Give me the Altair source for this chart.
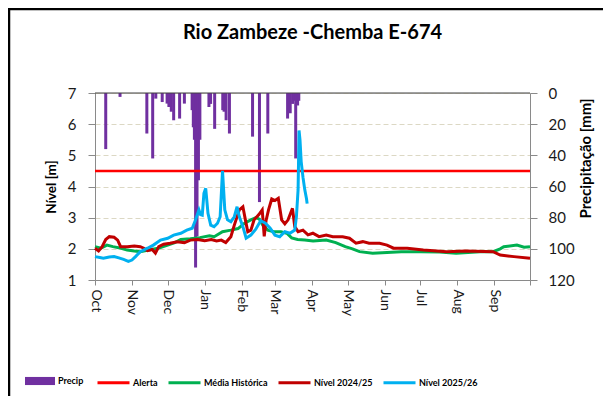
import altair as alt
import pandas as pd

TITLE = "Rio Zambeze -Chemba E-674"
START = pd.Timestamp("2025-10-01")
FONT = "Lato"

# ---- data (day offsets from 1 Oct 2025) ----
alert_days = [0, 365]
alert_vals = [4.5, 4.5]

hist_days = [0, 5, 10, 15, 22, 27, 33, 38, 45, 53, 61, 67, 72, 80, 88, 96, 100, 107, 114, 120,
             125.5, 130.8, 135, 138, 141, 145, 150, 156, 161, 165, 170, 176, 183, 194, 202, 210,
             216, 222, 233, 245, 257, 273, 289, 303, 323, 334, 340, 343, 354, 360, 365]
hist_vals = [2.07, 2.02, 2.12, 2.07, 2.02, 1.96, 1.93, 1.91, 1.96, 2.02, 2.12, 2.20, 2.30, 2.32,
             2.36, 2.42, 2.39, 2.55, 2.60, 2.65, 2.82, 2.93, 3.00, 2.95, 2.75, 2.60, 2.55, 2.55,
             2.50, 2.35, 2.30, 2.28, 2.25, 2.28, 2.20, 2.07, 2.00, 1.91, 1.86, 1.88, 1.91, 1.91,
             1.90, 1.86, 1.91, 1.91, 2.00, 2.07, 2.12, 2.05, 2.07]

prev_days = [0, 3, 6, 9, 12, 16, 19, 21.5, 27, 33, 38, 41, 44, 48, 50.7, 53.5, 57.6, 63, 69, 75,
             80, 86, 92, 97.6, 102, 106, 109.7, 114, 116.9, 121.1, 124.1, 126.2, 128.2, 130.8,
             133.5, 137.5, 140.3, 142, 143.5, 145.6, 148.3, 151, 153.8, 156.6, 159.3, 162, 165.7,
             167.6, 170.4, 174.5, 178.7, 182.8, 188, 194, 199.5, 207.8, 213.5, 219, 224.7, 230,
             238.8, 245, 250.5, 262, 275.5, 295, 311, 334, 340, 351.5, 365]
prev_vals = [2.02, 1.93, 2.07, 2.30, 2.39, 2.37, 2.28, 2.07, 2.07, 2.09, 2.07, 2.02, 1.94, 1.98,
             1.86, 2.07, 2.15, 2.18, 2.23, 2.20, 2.28, 2.30, 2.26, 2.30, 2.25, 2.28, 2.20, 2.39,
             2.76, 3.25, 3.35, 2.93, 2.55, 2.60, 2.93, 3.10, 3.25, 2.40, 2.90, 3.25, 3.60, 3.55,
             3.62, 2.93, 2.80, 2.93, 3.30, 2.71, 2.55, 2.60, 2.45, 2.50, 2.39, 2.44, 2.39, 2.39,
             2.34, 2.18, 2.23, 2.18, 2.18, 2.12, 2.02, 2.02, 1.96, 1.91, 1.93, 1.91, 1.80, 1.75,
             1.70]

curr_days = [0, 4, 7, 12, 16, 20, 24, 28, 31, 34, 38, 44, 49, 55, 61, 66, 72, 77, 81.6, 84.4,
             87.2, 88.5, 90, 91.4, 92.9, 94.8, 97.1, 99.9, 102.8, 105, 107, 108.9, 111.2, 114,
             116.9, 119.2, 121.1, 124.1, 126.8, 130.8, 134.9, 139, 143, 147, 151, 155, 159.3,
             163.5, 167.6, 169, 170.4, 171.2, 172, 173, 174.5, 176, 177.5, 178]
curr_vals = [1.75, 1.72, 1.70, 1.74, 1.75, 1.71, 1.66, 1.60, 1.64, 1.75, 1.91, 2.02, 2.12, 2.28,
             2.34, 2.44, 2.50, 2.60, 2.66, 2.93, 3.25, 3.10, 3.08, 3.78, 3.94, 3.14, 2.76, 2.71,
             2.82, 3.03, 4.50, 3.25, 2.93, 2.87, 3.03, 3.35, 3.03, 2.71, 2.34, 2.44, 2.63, 2.90,
             2.82, 2.66, 2.44, 2.39, 2.55, 2.50, 2.60, 3.03, 3.89, 5.80, 5.50, 4.80, 4.30, 3.90,
             3.60, 3.45]

precip_days = [9, 21, 43.5, 48.4, 51, 56.4, 60.5, 62, 64, 66, 71, 75, 81.5, 82.5, 83.4, 84.4,
               85.6, 86.8, 88, 95.6, 97, 100.4, 107.2, 108.3, 110, 112.8, 132.2, 138, 145,
               161.6, 163.8, 165.8, 167, 168.4, 170, 171]
precip_mm = [36, 2.5, 26, 42, 3.6, 5.8, 6.8, 9, 12, 17.5, 16.4, 6.8, 11, 22, 30, 112, 92, 56,
             30, 9, 7, 23, 11, 12, 17.5, 26, 28, 70, 26, 16.4, 13, 7, 5, 42, 8, 5]


def to_dates(days):
    return START + pd.to_timedelta(days, unit="D")


def series_df(days, vals, name):
    return pd.DataFrame({"date": to_dates(days), "value": vals, "series": name})


alert_df = series_df(alert_days, alert_vals, "Alerta")
hist_df = series_df(hist_days, hist_vals, "Média Histórica")
prev_df = series_df(prev_days, prev_vals, "Nível 2024/25")
curr_df = series_df(curr_days, curr_vals, "Nível 2025/26")
precip_df = pd.DataFrame({"date": to_dates(precip_days), "mm": precip_mm, "series": "Precip"})

W, H = 435, 187

month_ticks = [alt.DateTime(year=2025 if m >= 10 else 2026, month=m, date=1)
               for m in [10, 11, 12, 1, 2, 3, 4, 5, 6, 7, 8, 9]] + [alt.DateTime(year=2026, month=10, date=1)]

x_scale = alt.Scale(domain=[alt.DateTime(year=2025, month=10, date=1),
                            alt.DateTime(year=2026, month=10, date=1)], padding=0)
x_axis = alt.Axis(values=month_ticks, format="%b",
                  labelExpr="month(datum.value) == 9 && year(datum.value) == 2026 ? '' : datum.label",
                  labelAngle=90, labelAlign="left", labelBaseline="middle", labelPadding=4,
                  labelFont=FONT, labelFontSize=14, labelColor="#1a1a1a", labelOverlap=False,
                  tickSize=5, tickColor="#8a8a8a", domainColor="#8a8a8a", grid=False, title=None)

x_enc = alt.X("date:T", scale=x_scale, axis=x_axis)

left_scale = alt.Scale(domain=[1, 7], nice=False, zero=False)
left_axis = alt.Axis(values=[1, 2, 3, 4, 5, 6, 7], orient="left", grid=True,
                     gridDash=[5, 3], gridColor="#dcd8c4", gridWidth=1,
                     tickSize=7, tickColor="#8a8a8a", domainColor="#8a8a8a",
                     labelFont=FONT, labelFontSize=15, labelColor="#1a1a1a", labelPadding=12,
                     title="Nível [m]", titleFont=FONT, titleFontSize=13.5, titleFontWeight="bold",
                     titleColor="black", titleAngle=270, titleX=-44, titleY=H / 2,
                     titleAlign="center", titleBaseline="middle")

right_axis = alt.Axis(values=[0, 20, 40, 60, 80, 100, 120], orient="right", grid=False,
                      tickSize=7, tickColor="#8a8a8a", domainColor="#8a8a8a",
                      labelFont=FONT, labelFontSize=15, labelColor="#1a1a1a", labelPadding=11,
                      title="Precipitação [mm]", titleFont=FONT, titleFontSize=15,
                      titleFontWeight="bold", titleColor="black", titleAngle=270,
                      titleX=55, titleY=65, titleAlign="center", titleBaseline="middle")

line_domain = ["Alerta", "Média Histórica", "Nível 2024/25", "Nível 2025/26"]
line_range = ["#FF0000", "#00B050", "#C00000", "#00B0F0"]
line_scale = alt.Scale(domain=line_domain, range=line_range)
line_legend = alt.Legend(title=None, orient="none", direction="horizontal",
                         legendX=1, legendY=272, symbolType="stroke", symbolSize=1024,
                         symbolStrokeWidth=3, labelFont=FONT, labelFontSize=9,
                         labelFontWeight="bold", labelColor="black", labelOffset=2,
                         columnPadding=4, padding=0)

precip_legend = alt.Legend(title=None, orient="none", direction="horizontal",
                           legendX=-70, legendY=273, symbolType="M-1,-0.27H1V0.27H-1Z",
                           symbolSize=900, symbolStrokeWidth=0, labelFont=FONT, labelFontSize=9,
                           labelFontWeight="bold", labelColor="black", labelOffset=3, padding=0)

bars = alt.Chart(precip_df).mark_bar(size=3).encode(
    x=x_enc,
    y=alt.Y("mm:Q", scale=alt.Scale(domain=[0, 120], reverse=True, nice=False), axis=right_axis),
    fill=alt.Fill("series:N", scale=alt.Scale(domain=["Precip"], range=["#7030A0"]),
                  legend=precip_legend),
)


def line_layer(df, width):
    return alt.Chart(df).mark_line(strokeWidth=width).encode(
        x=x_enc,
        y=alt.Y("value:Q", scale=left_scale, axis=left_axis),
        stroke=alt.Stroke("series:N", scale=line_scale, legend=line_legend),
    )


lines = alt.layer(
    line_layer(alert_df, 2.5),
    line_layer(hist_df, 3),
    line_layer(prev_df, 3),
    line_layer(curr_df, 3),
)

top_rule = alt.Chart(alt.Data(values=[{}])).mark_rule(color="#404040", strokeWidth=1).encode(
    x=alt.value(0), x2=alt.value(W), y=alt.value(0)
)

frame = alt.Chart(alt.Data(values=[{}])).mark_rect(
    fillOpacity=0, stroke="black", strokeWidth=2.5
).encode(x=alt.value(-86), x2=alt.value(700), y=alt.value(-84), y2=alt.value(600))

chart = alt.layer(bars, lines, top_rule, frame).resolve_scale(y="independent").properties(
    width=W, height=H,
    title=alt.TitleParams(TITLE, font=FONT, fontSize=20, fontWeight="bold", color="black",
                          anchor="middle", frame="group", offset=0, dy=35),
    padding={"left": 87, "top": 85, "right": 73, "bottom": 116},
    autosize=alt.AutoSizeParams(type="none"),
).configure_view(stroke=None).configure(background="white")

chart.save("out.html", embed_options={"renderer": "svg", "actions": False})
